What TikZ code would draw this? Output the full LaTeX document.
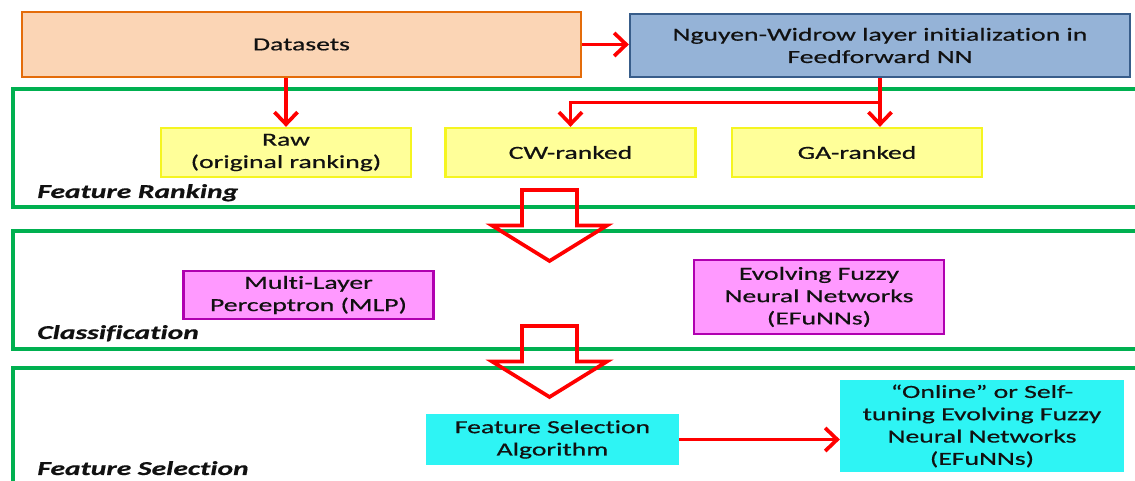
\documentclass[tikz,border=0pt]{standalone}
\usepackage{fontspec}
\setmainfont{Carlito}[FakeStretch=1.5, FakeBold=0.6, Ligatures={TeX,NoCommon}]
\usetikzlibrary{positioning, calc, arrows.meta}

\definecolor{dsfill}{HTML}{FBD5B5}
\definecolor{dsedge}{HTML}{E46C0A}
\definecolor{nwfill}{HTML}{95B3D7}
\definecolor{nwedge}{HTML}{385D8A}
\definecolor{rankfill}{HTML}{FFFF99}
\definecolor{rankedge}{HTML}{F5F520}
\definecolor{classfill}{HTML}{FF99FF}
\definecolor{classedge}{HTML}{B000B0}
\definecolor{selfill}{HTML}{2EF4F4}
\definecolor{stagegreen}{HTML}{00B050}
\definecolor{txt}{HTML}{111111}

\begin{document}
\begin{tikzpicture}[
  every node/.style={font=\fontsize{10.5}{12.7}\selectfont, text=txt},
  box/.style={draw, rectangle, line width=1.3pt, align=center, inner sep=0pt},
  rankbox/.style={box, draw=rankedge, fill=rankfill, minimum width=5.0cm, minimum height=0.98cm},
  classbox/.style={box, draw=classedge, fill=classfill, minimum width=5.0cm},
  selbox/.style={box, draw=selfill, fill=selfill},
  stage/.style={draw=stagegreen, line width=2pt},
  stagelabel/.style={anchor=base west, inner sep=0pt, font=\fontsize{11.2}{13}\selectfont\bfseries\itshape},
  link/.style={draw=red, line width=2.1pt, -{Straight Barb[length=0.24cm, width=0.46cm]}},
  fat/.style={draw=red, line width=2.1pt, line join=miter}
]
  \useasboundingbox (0,0) rectangle (22.7,9.62);
  \clip (0,0) rectangle (22.7,9.62);

  % stage frames
  \draw[stage] (0.26,5.48) rectangle (23.2,7.84);
  \draw[stage] (0.26,2.64) rectangle (23.2,5.0);
  \draw[stage] (0.26,-0.5) rectangle (23.2,2.26);

  \node[stagelabel] (lrank) at (0.74,5.66) {Feature Ranking};
  \node[stagelabel] (lclass) at (0.74,2.84) {Classification};
  \node[stagelabel] (lsel) at (0.74,0.12) {Feature Selection};

  % top row
  \node[box, draw=dsedge, fill=dsfill, minimum width=11.18cm, minimum height=1.3cm] (data) at (6.03,8.73) {Datasets};
  \node[box, draw=nwedge, fill=nwfill, minimum width=10.0cm, minimum height=1.26cm] (nw) at (17.60,8.71) {Nguyen-Widrow layer initialization in\\Feedforward NN};

  % feature ranking
  \node[rankbox] (raw) at (5.72,6.57) {Raw\\(original ranking)};
  \node[rankbox] (cw) at (11.41,6.57) {CW-ranked};
  \node[rankbox] (ga) at (17.14,6.57) {GA-ranked};

  % classification
  \node[classbox, minimum height=0.96cm] (mlp) at (6.17,3.72) {Multi-Layer\\Perceptron (MLP)};
  \node[classbox, minimum height=1.48cm] (efunn) at (16.38,3.68) {Evolving Fuzzy\\Neural Networks\\(EFuNNs)};

  % feature selection
  \node[selbox, minimum width=5.02cm, minimum height=0.98cm] (fsa) at (11.05,0.83) {Feature Selection\\Algorithm};
  \node[selbox, minimum width=5.64cm, minimum height=1.80cm] (online) at (19.64,1.10) {“Online” or Self-\\tuning Evolving Fuzzy\\Neural Networks\\(EFuNNs)};

  % connectors
  \draw[link] (data.east) -- (data.east -| nw.west);
  \draw[link] (data.south -| raw.north) -- (raw.north);
  \draw[link] (nw.south) -- (nw.south |- ga.north);
  \coordinate (split) at ($(nw.south)!0.5!(nw.south |- ga.north)$);
  \draw[link] (split) -| (cw.north);
  \draw[link] (fsa.east) -- (fsa.east -| online.west);

  % hollow stage arrows
  \foreach \top in {5.82, 3.10}
    \draw[fat] (10.44,\top) -- ++(1.1,0) -- ++(0,-0.71) -- ++(0.6,0)
      -- ++(-1.15,-0.71) -- ++(-1.15,0.71) -- ++(0.6,0) -- cycle;
\end{tikzpicture}
\end{document}
